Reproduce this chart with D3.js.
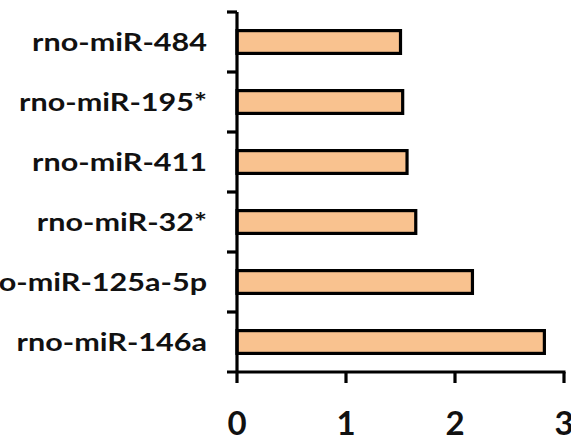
<!DOCTYPE html>
<html><head><meta charset="utf-8">
<script src="https://cdn.jsdelivr.net/npm/d3@7"></script>
<style>body{margin:0;background:#fff}svg{display:block}</style>
</head><body>
<svg id="c" width="571" height="441"></svg>
<script>
const categories = ["rno-miR-484","rno-miR-195*","rno-miR-411","rno-miR-32*","rno-miR-125a-5p","rno-miR-146a"];
const values = [1.50, 1.52, 1.56, 1.64, 2.16, 2.82];
const xTicks = [0, 1, 2, 3];

const svg = d3.select("#c");
const x = d3.scaleLinear().domain([0, 3]).range([237, 564]);
const y = d3.scaleBand().domain(categories).range([12, 372]).paddingInner(0.62).paddingOuter(0.31);
const yTicks = d3.scaleBand().domain(categories).range([12, 372]);

// bars
svg.selectAll("rect.bar").data(values).join("rect")
  .attr("class","bar")
  .attr("x", x(0))
  .attr("y", (d,i)=>y(categories[i]))
  .attr("width", d=>x(d)-x(0))
  .attr("height", y.bandwidth())
  .attr("fill","#F9C28F")
  .attr("stroke","#000")
  .attr("stroke-width",3.2);

// y axis line and ticks between categories
const g = svg.append("g");
g.append("line").attr("x1",x(0)).attr("x2",x(0)).attr("y1",12).attr("y2",372)
  .attr("stroke","#000").attr("stroke-width",3.2);
const bounds = categories.map(c=>yTicks(c));
g.selectAll("line.yt").data(bounds).join("line").attr("class","yt")
  .attr("x1",x(0)-10).attr("x2",x(0)).attr("y1",d=>d).attr("y2",d=>d)
  .attr("stroke","#000").attr("stroke-width",3.2);

// category labels
const labels = g.selectAll("text.cl").data(categories).join("text").attr("class","cl")
  .attr("text-anchor","end")
  .attr("font-family","Lato, 'Open Sans', sans-serif")
  .attr("font-weight","bold")
  .attr("font-size",24)
  .attr("fill","#111")
  .text(d=>d);
const w0 = labels.node().getComputedTextLength();
const sx = 175 / w0;
labels.attr("transform",d=>`translate(207,${y(d)+y.bandwidth()/2+8.5}) scale(${sx},1)`);

// x axis
const xa = svg.append("g");
xa.append("line").attr("x1",x(0)-10).attr("x2",x(3)+1.5).attr("y1",372).attr("y2",372)
  .attr("stroke","#000").attr("stroke-width",3.2);
xa.selectAll("line.xt").data(xTicks).join("line").attr("class","xt")
  .attr("x1",d=>x(d)).attr("x2",d=>x(d)).attr("y1",372).attr("y2",383)
  .attr("stroke","#000").attr("stroke-width",3.2);
xa.selectAll("text.xl").data(xTicks).join("text").attr("class","xl")
  .attr("x",d=>x(d)).attr("y",435)
  .attr("text-anchor","middle")
  .attr("font-family","Lato, 'Open Sans', sans-serif")
  .attr("font-weight","bold")
  .attr("font-size",33)
  .attr("fill","#111")
  .text(d=>d);
</script>
</body></html>
